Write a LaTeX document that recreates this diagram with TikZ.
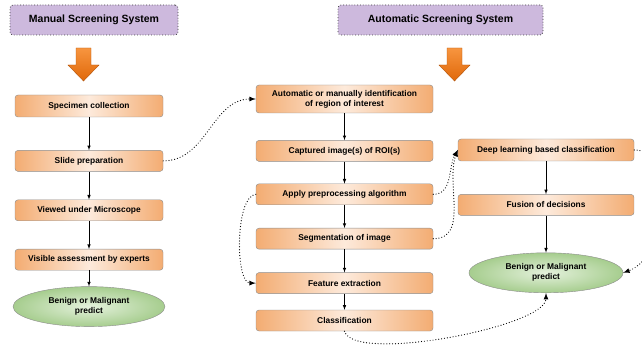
\documentclass[tikz,border=0pt]{standalone}
\usepackage{fontspec}
\setmainfont{Liberation Sans}
\usetikzlibrary{positioning,shapes.geometric}

\definecolor{boxorange}{HTML}{F3AC72}
\definecolor{boxlight}{HTML}{FDEADB}
\definecolor{boxedge}{HTML}{8C8C8C}
\definecolor{titlepurple}{HTML}{CDB9DD}
\definecolor{predgreen}{HTML}{A6CD8E}
\definecolor{predlight}{HTML}{E4F1DC}
\definecolor{arrowtop}{HTML}{F7953F}
\definecolor{arrowbot}{HTML}{E0680A}

\begin{document}
\begin{tikzpicture}[x=1pt,y=-1pt,
	main/.style={rectangle, rounded corners=3pt, draw=boxedge, left color=boxorange, right color=boxorange, middle color=boxlight, text centered, align=center, minimum height=21pt, inner sep=2pt, font=\fontsize{8.4}{10}\selectfont\bfseries},
	leftbox/.style={main, minimum width=148pt},
	midbox/.style={main, minimum width=177pt},
	rightbox/.style={main, minimum width=176pt},
	predict/.style={ellipse, draw=boxedge, inner color=predlight, outer color=predgreen, align=center, minimum height=40pt, inner sep=0pt, font=\fontsize{8.4}{10}\selectfont\bfseries},
	title/.style={rectangle, rounded corners=3pt, draw=black!75, dotted, thick, fill=titlepurple, minimum height=30pt, font=\fontsize{10.5}{12}\selectfont\bfseries},
	dots/.style={line width=1.2pt, dash pattern=on 0pt off 2.9pt, line cap=round}
	]
	\useasboundingbox (0,0) rectangle (642,347);

	\node (manual) [title, minimum width=168pt] at (94,20) {Manual Screening System};
	\node (automatic) [title, minimum width=205pt] at (440.5,20) {Automatic Screening System};

	% big orange arrows under the titles
	\foreach \cx in {83.5,454.5}
		\draw [draw=arrowbot!80!black, top color=arrowtop, bottom color=arrowbot]
			(\cx-7.5,48) -- (\cx+7.5,48) -- (\cx+7.5,65) -- (\cx+15.5,65) -- (\cx,81)
			-- (\cx-15.5,65) -- (\cx-7.5,65) -- cycle;

	% manual
	\node (specimen) [leftbox, minimum height=22pt] at (89,106) {Specimen collection};
		\node (slide) [leftbox, below=33pt of specimen] {Slide preparation};
		\node (viewed) [leftbox, below=28pt of slide] {Viewed under Microscope};
		\node (visible) [leftbox, below=28pt of viewed] {Visible assessment by experts};
		\node (leftpredict) [predict, minimum width=152pt, below=16pt of visible] {Benign or Malignant\\predict};

	% automatic
	\node (roi) [midbox, minimum height=28pt] at (344.5,99) {Automatic or manually identification\\of region of interest};
		\node (captured) [midbox, below=27pt of roi] {Captured image(s) of ROI(s)};
		\node (preproc) [midbox, below=22pt of captured] {Apply preprocessing algorithm};
		\node (segment) [midbox, below=23pt of preproc] {Segmentation of image};
		\node (feature) [midbox, below=23pt of segment] {Feature extraction};
		\node (classif) [midbox, below=16pt of feature] {Classification};

	\node (deep) [rightbox, minimum height=22pt] at (546,150) {Deep learning based classification};
		\node (fusion) [rightbox, below=33pt of deep] {Fusion of decisions};
		\node (rightpredict) [predict, minimum width=154pt, below=37pt of fusion] {Benign or Malignant\\predict};

	\draw [-latex, semithick] (specimen.south) -- (slide.north);
	\draw [-latex, semithick] (slide.south) -- (viewed.north);
	\draw [-latex, semithick] (viewed.south) -- (visible.north);
	\draw [-latex, semithick] (visible.south) -- (leftpredict.north);

	\draw [-latex, semithick] (roi.south) -- (captured.north);
	\draw [-latex, semithick] (captured.south) -- (preproc.north);
	\draw [-latex, semithick] (preproc.south) -- (segment.north);
	\draw [-latex, semithick] (segment.south) -- (feature.north);
	\draw [-latex, semithick] (feature.south) -- (classif.north);

	\draw [-latex, semithick] (deep.south) -- (fusion.north);
	\draw [-latex, semithick] (fusion.south) -- (rightpredict.north);

	% dotted links
	\draw [dots, -latex] (slide.east) to[out=0, in=180] (roi.west);
	\draw [dots, -latex] (preproc.west) to[out=185, in=180, looseness=0.6] (feature.west);
	\draw [dots, -latex] (preproc.east) to[out=0, in=240] (deep.west);
	\draw [dots, -latex] (segment.east) to[out=0, in=250] (deep.west);
	\draw [dots, -latex] (deep.east) to[out=0, in=20] (rightpredict.east);
	\draw [dots, -latex] (classif.south) to[out=-75, in=-90, looseness=0.42] (rightpredict.south);

\end{tikzpicture}
\end{document}
